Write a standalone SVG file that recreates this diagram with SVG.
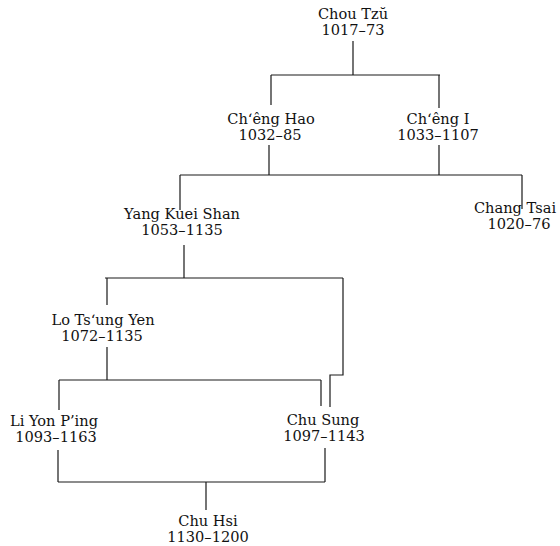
<svg xmlns="http://www.w3.org/2000/svg" width="560" height="546" viewBox="0 0 560 546">
<style>
text{font-family:"DejaVu Serif","Liberation Serif",serif;font-size:14.6px;fill:#111;text-anchor:middle}
.c{stroke:#1a1a1a;stroke-width:1.2;fill:none}
</style>
<rect width="560" height="546" fill="#fff"/>
<g id="connectors" class="c">
<path d="M353 41V75M271 75H440M271 75V105M439 75V108"/>
<path d="M269 145V175M439 145V175M180 175H522M180 175V210M522 175V209"/>
<path d="M184 245V278M105 278H343M107 278V305M343 278V375H330V407"/>
<path d="M107 347V380M59 380H321M59 380V410M321 380V406"/>
<path d="M58 450V482M325 448V482M58 482H325M206 482V510"/>
</g>
<g id="chou"><text x="353" y="19">Chou Tzŭ</text><text x="353" y="35">1017–73</text></g>
<g id="cheng-hao"><text x="271" y="124">Ch‘êng Hao</text><text x="270" y="140">1032–85</text></g>
<g id="cheng-i"><text x="438" y="124">Ch‘êng I</text><text x="438" y="140">1033–1107</text></g>
<g id="yang"><text x="182" y="219">Yang Kuei Shan</text><text x="182" y="235">1053–1135</text></g>
<g id="chang"><text x="515" y="213">Chang Tsai</text><text x="519" y="229">1020–76</text></g>
<g id="lo"><text x="103" y="325">Lo Ts‘ung Yen</text><text x="102" y="341">1072–1135</text></g>
<g id="li"><text x="54" y="426">Li Yon P’ing</text><text x="56" y="442">1093–1163</text></g>
<g id="chu-sung"><text x="323" y="425">Chu Sung</text><text x="324" y="441">1097–1143</text></g>
<g id="chu-hsi"><text x="208" y="526">Chu Hsi</text><text x="208" y="542">1130–1200</text></g>
</svg>
